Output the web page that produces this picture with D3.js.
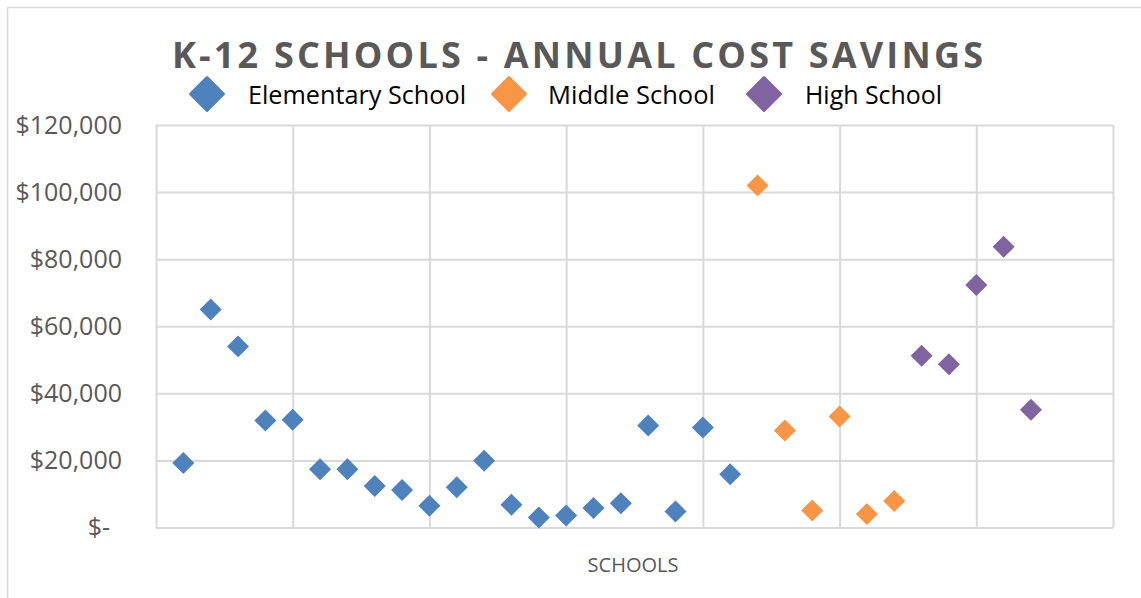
<!DOCTYPE html>
<html lang="en">
<head>
    <meta charset="UTF-8">
    <title>K-12 Schools - Annual Cost Savings</title>
    <script src="https://d3js.org/d3.v7.min.js"></script>
    <style>
        body { margin: 0; background: #fff; }
        text { font-family: "Open Sans", "Liberation Sans", sans-serif; }
    </style>
</head>
<body>
    <svg width="1141" height="598" id="chart"></svg>

    <script>
        // school number (x) and annual savings (y) per series
        const elementaryX = [1, 2, 3, 4, 5, 6, 7, 8, 9, 10, 11, 12, 13, 14, 15, 16, 17, 18, 19, 20, 21];
        const elementaryY = [19200, 65000, 54000, 31900, 32100, 17400, 17400, 12400, 11200, 6500, 12000,
                             19900, 6800, 3000, 3600, 5800, 7200, 30400, 4800, 29800, 15900];
        const middleX = [22, 23, 24, 25, 26, 27];
        const middleY = [102000, 28900, 5100, 33100, 4000, 7900];
        const highX = [28, 29, 30, 31, 32];
        const highY = [51200, 48700, 72300, 83700, 35100];

        const seriesNames = ["Elementary School", "Middle School", "High School"];
        const seriesColors = ["#4f81bd", "#f79646", "#8064a2"];
        const yTicks = [0, 20000, 40000, 60000, 80000, 100000, 120000];
        const xTicks = [0, 5, 10, 15, 20, 25, 30, 35];

        const series = [
            { name: seriesNames[0], color: seriesColors[0], pts: elementaryX.map((x, i) => ({ x, y: elementaryY[i] })) },
            { name: seriesNames[1], color: seriesColors[1], pts: middleX.map((x, i) => ({ x, y: middleY[i] })) },
            { name: seriesNames[2], color: seriesColors[2], pts: highX.map((x, i) => ({ x, y: highY[i] })) }
        ];

        const svg = d3.select("#chart");

        // outer chart border
        svg.append("rect")
            .attr("x", 7.5).attr("y", 7.5)
            .attr("width", 1200).attr("height", 700)
            .attr("fill", "none")
            .attr("stroke", "#d9d9d9")
            .attr("stroke-width", 1.5);

        const plotLeft = 156, plotRight = 1113, plotTop = 125, plotBottom = 527.5;
        const x = d3.scaleLinear().domain([0, 35]).range([plotLeft, plotRight]);
        const y = d3.scaleLinear().domain([0, 120000]).range([plotBottom, plotTop]);

        // horizontal gridlines + labels
        const yAxis = svg.append("g")
            .attr("transform", `translate(${plotLeft},0)`)
            .call(d3.axisLeft(y).tickValues(yTicks).tickSize(-(plotRight - plotLeft)).tickPadding(34)
                .tickFormat(d => d === 0 ? "$-" : "$" + d3.format(",")(d)));
        yAxis.select(".domain").remove();
        yAxis.selectAll("line").attr("stroke", "#d9d9d9").attr("stroke-width", 2);
        yAxis.selectAll("text")
            .attr("fill", "#595959")
            .attr("font-size", 25)
            .attr("font-family", null)
            .attr("dx", d => d === 0 ? -12 : 0);

        // vertical gridlines
        const xAxis = svg.append("g")
            .attr("transform", `translate(0,${plotBottom})`)
            .call(d3.axisBottom(x).tickValues(xTicks).tickSize(-(plotBottom - plotTop)).tickFormat(""));
        xAxis.select(".domain").remove();
        xAxis.selectAll("line").attr("stroke", "#d9d9d9").attr("stroke-width", 2);

        // markers
        const marker = d3.symbol(d3.symbolSquare, 242);
        series.forEach(s => {
            svg.append("g").selectAll("path")
                .data(s.pts)
                .join("path")
                .attr("d", marker)
                .attr("transform", d => `translate(${x(d.x)},${y(d.y)}) rotate(45)`)
                .attr("fill", s.color);
        });

        // title
        svg.append("text")
            .attr("x", 172).attr("y", 67.5)
            .attr("textLength", 811)
            .attr("lengthAdjust", "spacing")
            .attr("font-size", 36)
            .attr("font-weight", "bold")
            .attr("fill", "#595959")
            .text("K-12 SCHOOLS - ANNUAL COST SAVINGS");

        // legend
        const legendMarkX = [207, 509, 764];
        const legendTextX = [248, 548, 805];
        const legendTextW = [218, 167, 137];
        const legendMark = d3.symbol(d3.symbolSquare, 540);
        series.forEach((s, i) => {
            svg.append("path")
                .attr("d", legendMark)
                .attr("transform", `translate(${legendMarkX[i]},94) rotate(45)`)
                .attr("fill", s.color)
                .attr("stroke", s.color)
                .attr("stroke-width", 3)
                .attr("stroke-linejoin", "round");
            svg.append("text")
                .attr("x", legendTextX[i]).attr("y", 103.5)
                .attr("textLength", legendTextW[i])
                .attr("lengthAdjust", "spacingAndGlyphs")
                .attr("font-size", 25)
                .attr("fill", "#000")
                .text(s.name);
        });

        // x axis title
        svg.append("text")
            .attr("x", 633).attr("y", 572)
            .attr("text-anchor", "middle")
            .attr("font-size", 20)
            .attr("fill", "#595959")
            .text("SCHOOLS");
    </script>
</body>
</html>
